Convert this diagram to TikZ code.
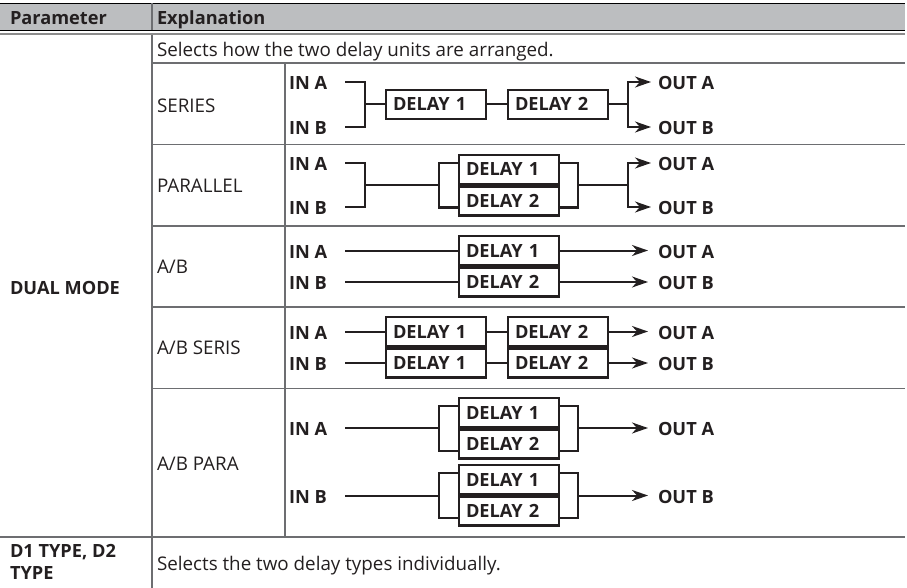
\documentclass[tikz,border=0pt]{standalone}
\usepackage{fontspec}
\setmainfont{Open Sans}
\usetikzlibrary{arrows.meta}
\definecolor{ink}{HTML}{231F20}
\definecolor{hdr}{HTML}{BCBEC0}
\definecolor{rulec}{HTML}{6D6E71}
\definecolor{rulel}{HTML}{8C8C8C}
\newcommand{\myfs}{\fontsize{18.8pt}{22pt}\selectfont}
\newcommand{\mybfs}{\fontsize{18.2pt}{22pt}\selectfont\bfseries}
\begin{document}
\begin{tikzpicture}[x=1pt,y=-1pt,
  every node/.style={inner sep=0pt, outer sep=0pt, text=ink},
  txt/.style={anchor=base west, font=\myfs},
  btxt/.style={anchor=base west, font=\mybfs},
  lbl/.style={anchor=west, font=\mybfs, text height=13pt, text depth=0pt},
  dbox/.style={draw=ink, line width=2.4pt, fill=white, anchor=north west,
     minimum height=29pt, text width=86pt, inner xsep=7pt, inner ysep=0pt,
     align=left, font=\mybfs, text height=13pt, text depth=0pt},
  conn/.style={draw=ink, line width=2pt},
  arr/.style={conn, -{Stealth[length=16pt,width=11pt,inset=5pt]}},
  grid/.style={draw=rulec, line width=1.3pt}]
\useasboundingbox (0,0) rectangle (907,588);
% ---------- table ----------
\fill[hdr] (0,3.5) rectangle (905,30.5);
\draw[black, line width=1.3pt] (0,3.5) -- (905,3.5);
\draw[black, line width=1.3pt] (0,30.5) -- (905,30.5);
\draw[rulel, line width=2pt] (0,34.3) -- (905,34.3);
\draw[grid] (152,3.5) -- (152,30.5);
\draw[grid] (152,35.3) -- (152,588);
\draw[grid] (152,63) -- (905,63);
\draw[grid] (152,144.5) -- (905,144.5);
\draw[grid] (152,226) -- (905,226);
\draw[grid] (152,307) -- (905,307);
\draw[grid] (152,388.5) -- (905,388.5);
\draw[grid] (0,537) -- (905,537);
\draw[grid] (285,63) -- (285,537);
% ---------- texts ----------
\node[btxt] (hpar) at (10,25) {Parameter};
\node[btxt] (hexp) at (157,25) {Explanation};
\node[txt] (sel1) at (157,56.5) {Selects how the two delay units are arranged.};
\node[btxt] (dual) at (10,294) {DUAL MODE};
\node[txt] (mser) at (157,113) {SERIES};
\node[txt] (mpar) at (157,193) {PARALLEL};
\node[txt] (mab) at (157,273) {A/B};
\node[txt] (mabs) at (157,354) {A/B SERIS};
\node[txt] (mabp) at (157,470) {A/B PARA};
\node[btxt] (d1a) at (10,557) {D1 TYPE, D2};
\node[btxt] (d1b) at (10,579) {TYPE};
\node[txt] (sel2) at (157,570) {Selects the two delay types individually.};
% ---------- SERIES ----------
\node[lbl] (sia) at (289,83) {IN A};
\node[lbl] (sib) at (289,128) {IN B};
\node[lbl] (soa) at (658,83) {OUT A};
\node[lbl] (sob) at (658,128) {OUT B};
\node[dbox] (s1) at (386,90) {DELAY 1};
\node[dbox] (s2) at (508,90) {DELAY 2};
\coordinate (sA) at (345,82);
\coordinate (sB) at (345,127);
\coordinate (sj) at (365,104.5);
\coordinate (sk) at (628,104.5);
\draw[conn] (sA) -- ++(20,0) |- (sB);
\draw[conn] (sj) -- (s1.west);
\draw[conn] (s1.east) -- (s2.west);
\draw[conn] (s2.east) -- (sk);
\draw[arr] (sk) |- (651,82);
\draw[arr] (sk) |- (651,127);
% ---------- PARALLEL ----------
\node[lbl] (pia) at (289,164) {IN A};
\node[lbl] (pib) at (289,208) {IN B};
\node[lbl] (poa) at (658,164) {OUT A};
\node[lbl] (pob) at (658,208) {OUT B};
\node[dbox] (p1) at (459,155) {DELAY 1};
\node[dbox] (p2) at (459,186.5) {DELAY 2};
\coordinate (pA) at (345,163);
\coordinate (pB) at (345,207);
\coordinate (pj) at (365,185);
\coordinate (pl) at (438.5,185);
\coordinate (pr) at (578,185);
\coordinate (pk) at (628,185);
\draw[conn] (pA) -- ++(20,0) |- (pB);
\draw[conn] (pj) -- (pl);
\draw[conn] ([yshift=-8pt]p1.north west) -| (pl) |- ([yshift=8pt]p2.south west);
\draw[conn] ([yshift=-8pt]p1.north east) -| (pr) |- ([yshift=8pt]p2.south east);
\draw[conn] (pr) -- (pk);
\draw[arr] (pk) |- (651,163);
\draw[arr] (pk) |- (651,207);
% ---------- A/B ----------
\node[lbl] (aia) at (289,251.5) {IN A};
\node[lbl] (aib) at (289,283) {IN B};
\node[lbl] (aoa) at (658,251.5) {OUT A};
\node[lbl] (aob) at (658,283) {OUT B};
\node[dbox] (a1) at (459,236) {DELAY 1};
\node[dbox] (a2) at (459,267.5) {DELAY 2};
\coordinate (aA) at (345,250.5);
\coordinate (aB) at (345,282);
\draw[conn] (aA) -- (a1.west);
\draw[conn] (aB) -- (a2.west);
\draw[arr] (a1.east) -- (648,250.5);
\draw[arr] (a2.east) -- (648,282);
% ---------- A/B SERIS ----------
\node[lbl] (bia) at (289,332.5) {IN A};
\node[lbl] (bib) at (289,364) {IN B};
\node[lbl] (boa) at (658,332.5) {OUT A};
\node[lbl] (bob) at (658,364) {OUT B};
\node[dbox] (b1a) at (386,317) {DELAY 1};
\node[dbox] (b2a) at (508,317) {DELAY 2};
\node[dbox] (b1b) at (386,348.5) {DELAY 1};
\node[dbox] (b2b) at (508,348.5) {DELAY 2};
\coordinate (bA) at (345,331.5);
\coordinate (bB) at (345,363);
\draw[conn] (bA) -- (b1a.west);
\draw[conn] (b1a.east) -- (b2a.west);
\draw[arr] (b2a.east) -- (648,331.5);
\draw[conn] (bB) -- (b1b.west);
\draw[conn] (b1b.east) -- (b2b.west);
\draw[arr] (b2b.east) -- (648,363);
% ---------- A/B PARA ----------
\node[lbl] (cia) at (289,429) {IN A};
\node[lbl] (cib) at (289,496.5) {IN B};
\node[lbl] (coa) at (658,429) {OUT A};
\node[lbl] (cob) at (658,496.5) {OUT B};
\node[dbox] (c1) at (459,398) {DELAY 1};
\node[dbox] (c2) at (459,429.5) {DELAY 2};
\node[dbox] (c3) at (459,465) {DELAY 1};
\node[dbox] (c4) at (459,496.5) {DELAY 2};
\coordinate (cA) at (345,428);
\coordinate (cl) at (439,428);
\coordinate (cr) at (578,428);
\coordinate (cB) at (345,495.5);
\coordinate (cl2) at (439,495.5);
\coordinate (cr2) at (578,495.5);
\draw[conn] (cA) -- (cl);
\draw[conn] ([yshift=-8pt]c1.north west) -| (cl) |- ([yshift=8pt]c2.south west);
\draw[conn] ([yshift=-8pt]c1.north east) -| (cr) |- ([yshift=8pt]c2.south east);
\draw[arr] (cr) -- (648,428);
\draw[conn] (cB) -- (cl2);
\draw[conn] ([yshift=-8pt]c3.north west) -| (cl2) |- ([yshift=8pt]c4.south west);
\draw[conn] ([yshift=-8pt]c3.north east) -| (cr2) |- ([yshift=8pt]c4.south east);
\draw[arr] (cr2) -- (648,495.5);
\end{tikzpicture}
\end{document}
